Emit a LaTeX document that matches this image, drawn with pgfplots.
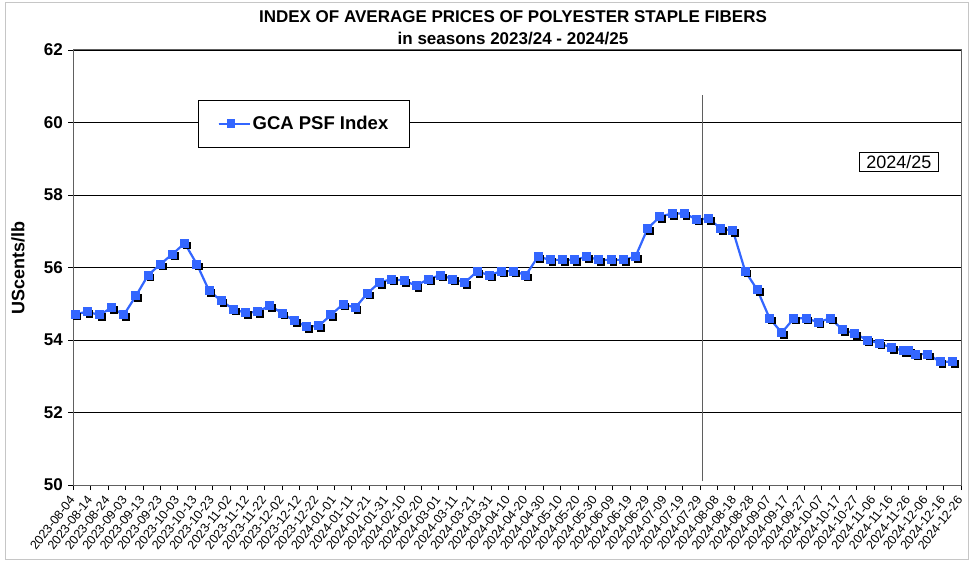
\documentclass[border=0pt]{standalone}
\usepackage{fontspec}
\setmainfont{Liberation Sans}
\usepackage{pgfplots}
\usepackage{pgfplotstable}
\pgfplotsset{compat=1.18}

\definecolor{psfblue}{RGB}{51,102,255}
\definecolor{vline}{RGB}{95,95,95}

% day number counted from 2023-08-04, index value in UScents/lb
\pgfplotstableread{
day  val
1    54.71
8    54.78
15   54.69
22   54.89
29   54.69
36   55.22
43   55.79
50   56.09
57   56.37
64   56.67
71   56.09
78   55.36
85   55.08
92   54.85
99   54.75
106  54.78
113  54.95
120  54.74
127  54.53
134  54.37
141  54.39
148  54.69
155  54.99
162  54.89
169  55.29
176  55.59
183  55.68
190  55.64
197  55.50
204  55.68
211  55.79
218  55.68
225  55.59
232  55.89
239  55.79
246  55.90
253  55.90
260  55.79
267  56.30
274  56.21
281  56.21
288  56.21
295  56.30
302  56.21
309  56.21
316  56.21
323  56.30
330  57.08
337  57.40
344  57.49
351  57.49
358  57.33
365  57.34
372  57.08
379  57.01
386  55.90
393  55.38
400  54.60
407  54.20
414  54.60
421  54.60
428  54.49
435  54.60
442  54.28
449  54.18
456  54.00
463  53.91
470  53.79
477  53.70
480  53.70
484  53.61
491  53.61
498  53.40
505  53.40
}\psfdata

\begin{document}
\begin{tikzpicture}[x=1pt,y=1pt]
\useasboundingbox (0,0) rectangle (972,563);
\draw[gray!45, line width=1pt] (5,4) rectangle (968,560);
\node[font=\bfseries\fontsize{17}{19}\selectfont] at (513,546) {INDEX OF AVERAGE PRICES OF POLYESTER STAPLE FIBERS};
\node[font=\bfseries\fontsize{17}{19}\selectfont] at (513,524.5) {in seasons 2023/24 - 2024/25};
\node[rotate=90, font=\bfseries\fontsize{18}{20}\selectfont] at (18,295) {UScents/lb};

\begin{axis}[
  at={(73.3pt,78pt)}, anchor=south west,
  scale only axis,
  width=887.7pt, height=435pt,
  xmin=0, xmax=510, ymin=50, ymax=62,
  xtick={0,10,...,510},
  xticklabels={2023-08-04,2023-08-14,2023-08-24,2023-09-03,2023-09-13,2023-09-23,
    2023-10-03,2023-10-13,2023-10-23,2023-11-02,2023-11-12,2023-11-22,2023-12-02,
    2023-12-12,2023-12-22,2024-01-01,2024-01-11,2024-01-21,2024-01-31,2024-02-10,
    2024-02-20,2024-03-01,2024-03-11,2024-03-21,2024-03-31,2024-04-10,2024-04-20,
    2024-04-30,2024-05-10,2024-05-20,2024-05-30,2024-06-09,2024-06-19,2024-06-29,
    2024-07-09,2024-07-19,2024-07-29,2024-08-08,2024-08-18,2024-08-28,2024-09-07,
    2024-09-17,2024-09-27,2024-10-07,2024-10-17,2024-10-27,2024-11-06,2024-11-16,
    2024-11-26,2024-12-06,2024-12-16,2024-12-26},
  ytick={50,52,...,62},
  ymajorgrids,
  grid style={black, line width=0.8pt},
  axis line style={gray!75!black, line width=1pt},
  tick align=outside,
  xtick pos=bottom, ytick pos=left,
  major tick length=5pt,
  tick style={black, line width=0.8pt},
  /pgf/number format/assume math mode=true,
  yticklabel style={font=\bfseries\fontsize{17}{19}\selectfont, xshift=-2pt},
  xticklabel style={font=\fontsize{12.5}{14}\selectfont, yshift=-5pt, xshift=1pt, rotate=52, anchor=east},
  legend style={at={(0.1405,0.885)}, anchor=north west, draw=black, line width=0.8pt,
    fill=white, font=\bfseries\fontsize{18.5}{20}\selectfont,
    inner xsep=19pt, inner ysep=14pt},
  legend image code/.code={
    \path (0pt,0pt) -- (31pt,0pt);
    \draw[psfblue, line width=2.2pt] (0pt,0pt) -- (25pt,0pt);
    \fill[psfblue] (9.2pt,-3.3pt) rectangle (15.8pt,3.3pt);
  },
]
\addplot[forget plot, vline, line width=1.3pt] coordinates {(361.5,50.1) (361.5,60.76)};
\addplot[forget plot, only marks, mark=square*, mark size=3.4pt, black,
  mark options={xshift=2pt, yshift=-2pt}] table[x=day, y=val] {\psfdata};
\addplot[psfblue, line width=2.2pt, mark=square*, mark size=3.4pt,
  mark options={solid, fill=psfblue, draw=psfblue}] table[x=day, y=val] {\psfdata};
\addlegendentry{GCA PSF Index}
\node[draw=black, line width=0.8pt, fill=white, font=\fontsize{18}{20}\selectfont,
  inner xsep=7pt, inner ysep=3pt] at (axis cs:474.3,58.92) {2024/25};
\end{axis}
\end{tikzpicture}
\end{document}
